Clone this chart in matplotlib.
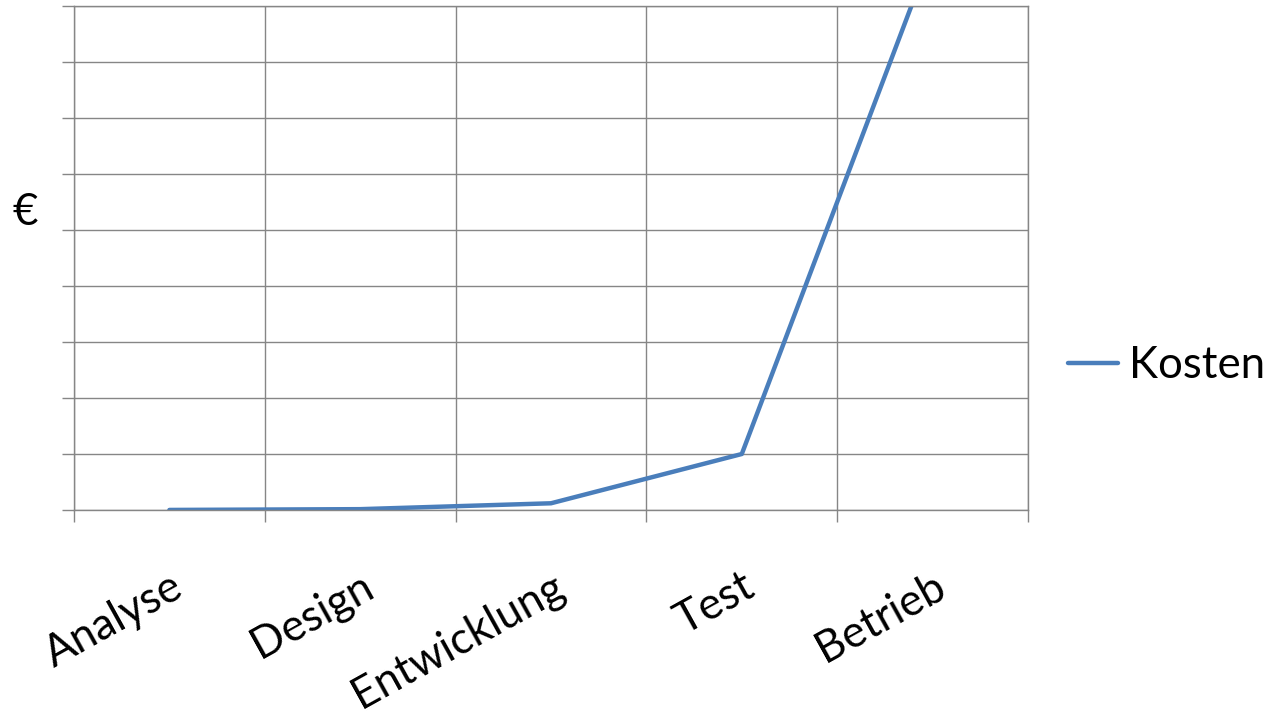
import matplotlib
matplotlib.use("Agg")
import matplotlib.pyplot as plt
import numpy as np

# phases and their (relative) cost
phases = ["Analyse", "Design", "Entwicklung", "Test", "Betrieb"]
kosten = [0.001, 0.015, 0.12, 1.0, 10.0]

plt.rcParams['font.family'] = ['Lato', 'DejaVu Sans']
FS = 31.5
grid_c = '#868686'
line_c = '#4A7EBB'

fig = plt.figure(figsize=(12.68, 7.14), dpi=100)
ax = fig.add_axes([74 / 1268, 1 - 510 / 714, (1028 - 74) / 1268, (510 - 6) / 714])

x = np.arange(len(phases)) + 0.5
ax.plot(x, kosten, color=line_c, linewidth=3.2, label="Kosten", solid_capstyle='round')

ax.set_xlim(0, len(phases))
ax.set_ylim(0, 9)
ax.set_yticks(np.arange(0, 10))
ax.set_yticklabels([])
ax.set_xticks(np.arange(0, len(phases) + 1))
ax.set_xticklabels([])
ax.set_xticks(x, minor=True)
ax.set_xticklabels(phases, minor=True, fontsize=FS, rotation=29,
                   ha='right', va='top', rotation_mode='anchor')
ax.tick_params(axis='x', which='minor', length=0, pad=40)
ax.tick_params(axis='both', which='major', length=8.6, width=1, color=grid_c, direction='out')

ax.grid(True, which='major', color=grid_c, linewidth=1)
ax.set_axisbelow(True)
for s in ax.spines.values():
    s.set_color(grid_c)
    s.set_linewidth(1)

fig.text(25 / 1268, 1 - 212 / 714, "€", fontsize=FS, ha='center', va='center')

leg = ax.legend(loc='center left', bbox_to_anchor=(1068 / 1268, 1 - 366 / 714),
                bbox_transform=fig.transFigure, frameon=False, fontsize=FS,
                handlelength=1.15, handletextpad=0.25, borderpad=0, borderaxespad=0)

fig.savefig("out.png", dpi=100)
